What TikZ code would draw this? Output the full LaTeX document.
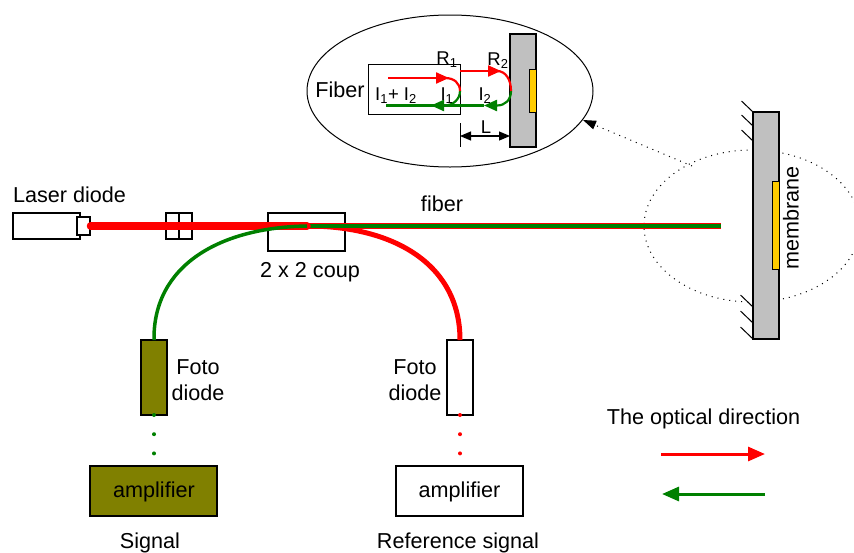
\documentclass[tikz,border=0pt]{standalone}
\usepackage{fontspec}
\setmainfont{Liberation Sans}
\usetikzlibrary{arrows.meta,shapes.geometric}
\definecolor{myred}{HTML}{FF0000}
\definecolor{mygreen}{HTML}{008000}
\definecolor{myolive}{HTML}{808000}
\definecolor{mygrey}{HTML}{C0C0C0}
\definecolor{myyellow}{HTML}{FFCC00}
\newcommand{\sub}[1]{\textsubscript{#1}}
\tikzset{
  part/.style={draw=black,line width=1.4pt,inner sep=0pt,outer sep=0pt,fill=white,rectangle},
  lbl/.style={font=\fontsize{21.6}{26}\selectfont,inner sep=0pt,align=center,text=black},
  smalllbl/.style={font=\fontsize{18.5}{23}\selectfont,inner sep=0pt,align=center,text=black},
  hatch/.style={draw=black,line width=1pt},
  redfat/.style={draw=myred,line width=5pt},
  greenfat/.style={draw=mygreen,line width=3.5pt},
  innerred/.style={draw=myred,line width=2.2pt},
  innergreen/.style={draw=mygreen,line width=2.2pt},
  size/.style 2 args={minimum width=#1pt,minimum height=#2pt},
}
\begin{document}
\begin{tikzpicture}[x=1pt,y=-1pt]
\useasboundingbox (0,0) rectangle (854,552);
% dotted circle and pointer
\node[ellipse,draw=black,line width=1pt,dash pattern=on 1pt off 5pt,inner sep=0pt,size={216}{152}] (spot) at (752,226) {};
\coordinate (spotedge) at (692,166);
\node[ellipse,draw=black,line width=1pt,inner sep=0pt,fill=white,size={286}{152}] (zoomell) at (450,91) {};
\draw[line width=1pt,dash pattern=on 1pt off 5pt,-{Triangle[length=13pt,width=9pt]}] (spotedge) -- (583,120);
% membrane
\foreach \y in {101,115,130}{\draw[hatch] (753,\y+11) -- (741.5,\y);}
\foreach \y in {295,311,327}{\draw[hatch] (753,\y+12) -- (740.5,\y);}
\node[part,fill=mygrey,size={26}{227}] (wall) at (766,225.5) {};
\node[part,fill=myyellow,line width=1pt,size={7}{88}] (mem) at (775.5,225) {};
\node[lbl,rotate=90] (memlabel) at (791,218) {membrane};
% laser and optics
\node[part,size={67}{26}] (laser) at (46.5,226) {};
\node[part,size={13}{18}] (tip) at (83.5,226) {};
\node[part,size={13}{26}] (isoa) at (172.5,226) {};
\node[part,size={13}{26}] (isob) at (185.5,226) {};
\node[part,size={77}{38}] (coupler) at (306.5,232) {};
\node[lbl,anchor=base] (laserlabel) at (69.5,202) {Laser diode};
\node[lbl,anchor=base] (couplabel) at (310,277) {2 x 2 coup};
\node[lbl,anchor=base] (fiberlabel) at (442,211) {fiber};
% detectors
\node[part,fill=myolive,size={26}{75}] (pd1) at (154,377.5) {};
\node[part,size={26}{75}] (pd2) at (460,377.5) {};
\node[part,fill=myolive,size={127}{50}] (amp1) at (153.5,491) {};
\node[part,size={127}{50}] (amp2) at (459.5,491) {};
\node[lbl,anchor=base] (amp1t) at (154,497) {amplifier};
\node[lbl,anchor=base] (amp2t) at (459.5,497) {amplifier};
\node[lbl,anchor=base] (sig1) at (150,548) {Signal};
\node[lbl,anchor=base] (sig2) at (458,548) {Reference signal};
\node[lbl] (fd1) at (198,380) {Foto\\diode};
\node[lbl] (fd2) at (415,380) {Foto\\diode};
% fibres
\coordinate (split) at (307,226);
\coordinate (fiberend) at (721,226);
\coordinate (laserout) at (90.5,226);
\coordinate (gsplit) at (307,226.2);
\coordinate (gend) at (720.5,226.2);
\draw[redfat,line cap=butt] (split) .. controls (395,226) and (460,265) .. (pd2.north);
\draw[myred,line width=5.6pt] (split) -- (fiberend);
\draw[mygreen,line width=4.2pt] (gsplit) -- (gend);
\draw[myred,line width=7.5pt,line cap=round] (laserout) -- (split);
\draw[greenfat] (pd1.north) .. controls (153,265) and (220,227.5) .. (split);
\foreach \t in {0,1,2}{
  \fill[mygreen] ([yshift=-\t*19.2pt]pd1.south) circle (2);
  \fill[myred] ([yshift=-\t*19.2pt]pd2.south) circle (2);
}
% inset
\node[part,line width=1.2pt,fill=mygrey,size={26}{113}] (inwall) at (523,90.5) {};
\node[part,fill=myyellow,line width=1pt,size={7}{43}] (inmem) at (532.5,90.5) {};
\node[part,line width=1pt,size={92}{50},fill=none] (infiber) at (414,89) {};
\coordinate (r1) at (460,91);
\coordinate (r2) at (511,91);
\coordinate (refl1) at (386,105.5);
\draw[innergreen,-{Triangle[length=13pt,width=11pt]}] (r2) .. controls (511,100) and (505,105.5) .. (497,105.5) -- (484,105.5);
\draw[innergreen] (484,105.5) -- (refl1);
\draw[innergreen,-{Triangle[length=13pt,width=11pt]}] (r1) .. controls (460,100) and (452,105.5) .. (445,105.5) -- (431,105.5);
\draw[innerred,-{Triangle[length=13pt,width=11pt]}] (388,78) -- (449,78);
\draw[innerred] (445,78) .. controls (454,78) and (460,83) .. (r1);
\draw[innerred,-{Triangle[length=13pt,width=11pt]}] (460,71) -- (501,71);
\draw[innerred] (497,71) .. controls (506,71) and (511,80) .. (r2);
\coordinate (tick) at (460,136);
\draw[black,line width=1pt] (460,123) -- (460,147);
\draw[black,line width=1.2pt,{Triangle[length=11pt,width=9pt]}-{Triangle[length=11pt,width=9pt]}] (tick) -- (inwall.west |- tick);
\node[lbl] (fib) at (340,90) {Fiber};
\node[smalllbl] (i12) at (396,96) {I\sub{1}+ I\sub{2}};
\node[smalllbl] (i1) at (447,96) {I\sub{1}};
\node[smalllbl] (i2) at (485,96) {I\sub{2}};
\node[smalllbl] (r1l) at (447,60) {R\sub{1}};
\node[smalllbl] (r2l) at (498,61) {R\sub{2}};
\node[smalllbl] (ll) at (486,127) {L};
% legend
\node[lbl] (legend) at (703.5,419) {The optical direction};
\coordinate (la) at (661,454);
\coordinate (lb) at (765,454);
\coordinate (lc) at (765,494);
\coordinate (ld) at (662,494);
\draw[draw=myred,line width=3pt,-{Triangle[length=17pt,width=14pt]}] (la) -- (lb);
\draw[draw=mygreen,line width=3pt,-{Triangle[length=17pt,width=14pt]}] (lc) -- (ld);
\end{tikzpicture}
\end{document}
